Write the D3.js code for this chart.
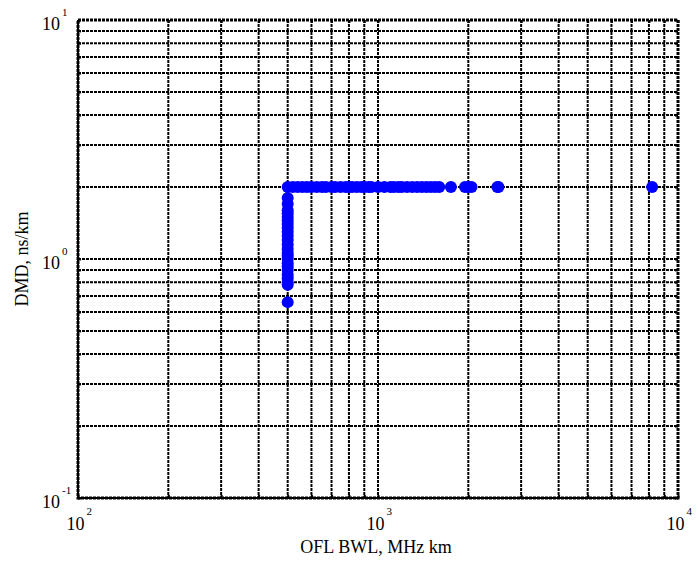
<!DOCTYPE html>
<html>
<head>
<meta charset="utf-8">
<script src="https://cdn.jsdelivr.net/npm/d3@7"></script>
<style>
  body { margin: 0; background: #fff; }
  text { font-family: "Liberation Serif", "Times New Roman", serif; fill: #000; }
</style>
</head>
<body>
<div id="chart"></div>
<script>
// measured values: OFL bandwidth (MHz km) vs DMD (ns/km)
var bwl = [500, 500, 500, 500, 500, 500, 500, 500, 500, 500, 500, 500, 500,
  500, 500, 500, 500, 500, 500, 500, 500, 500, 500, 500, 500,
  520, 540, 560, 580, 600, 625, 650, 670, 700, 720, 750, 780, 800, 820, 850,
  880, 900, 930, 950, 1000, 1050, 1100, 1130, 1170, 1200, 1250, 1300, 1350,
  1400, 1450, 1500, 1550, 1600, 1750, 1950, 2000, 2050, 2500, 2520, 8200];
var dmd = [0.66, 0.78, 0.8, 0.83, 0.86, 0.9, 0.93, 0.96, 1.0, 1.03, 1.06, 1.1,
  1.15, 1.2, 1.25, 1.3, 1.35, 1.4, 1.45, 1.5, 1.55, 1.6, 1.7, 1.8, 2.0,
  2, 2, 2, 2, 2, 2, 2, 2, 2, 2, 2, 2, 2, 2, 2,
  2, 2, 2, 2, 2, 2, 2, 2, 2, 2, 2, 2, 2,
  2, 2, 2, 2, 2, 2, 2, 2, 2, 2, 2, 2];
var xDecades = [2, 3, 4];
var yDecades = [-1, 0, 1];
var xTitle = "OFL BWL, MHz km";
var yTitle = "DMD, ns/km";

var margin = {top: 20, right: 19, bottom: 63, left: 78},
    width = 697 - margin.left - margin.right,
    height = 561 - margin.top - margin.bottom;

var svg = d3.select("#chart")
  .append("svg")
    .attr("width", 697)
    .attr("height", 561)
  .append("g")
    .attr("transform", "translate(" + margin.left + "," + margin.top + ")");

var x = d3.scaleLog()
  .domain([Math.pow(10, xDecades[0]), Math.pow(10, xDecades[xDecades.length - 1])])
  .range([0, width]);
var y = d3.scaleLog()
  .domain([Math.pow(10, yDecades[0]), Math.pow(10, yDecades[yDecades.length - 1])])
  .range([height, 0]);

// grid at every 1..9 x 10^n
function logTicks(dec) {
  var t = [];
  for (var i = 0; i < dec.length - 1; i++) {
    for (var k = 1; k < 10; k++) t.push(k * Math.pow(10, dec[i]));
  }
  t.push(Math.pow(10, dec[dec.length - 1]));
  return t;
}
var xt = logTicks(xDecades), yt = logTicks(yDecades);

svg.append("g").selectAll("line")
  .data(xt)
  .join("line")
    .attr("x1", function(d) { return x(d); })
    .attr("x2", function(d) { return x(d); })
    .attr("y1", 0).attr("y2", height)
    .attr("stroke", "#000")
    .attr("stroke-width", 2)
    .attr("stroke-dasharray", "3,1");

svg.append("g").selectAll("line")
  .data(yt)
  .join("line")
    .attr("y1", function(d) { return y(d); })
    .attr("y2", function(d) { return y(d); })
    .attr("x1", 0).attr("x2", width)
    .attr("stroke", "#000")
    .attr("stroke-width", 2)
    .attr("stroke-dasharray", "3,1");

// small inward ticks on all sides
var tl = 3;
svg.append("g")
  .call(d3.axisBottom(x).tickValues(xt).tickSize(tl).tickFormat(""))
  .attr("transform", "translate(0," + (height - tl) + ")");
svg.append("g")
  .call(d3.axisTop(x).tickValues(xt).tickSize(tl).tickFormat(""))
  .attr("transform", "translate(0," + tl + ")");
svg.append("g")
  .call(d3.axisLeft(y).tickValues(yt).tickSize(tl).tickFormat(""))
  .attr("transform", "translate(" + tl + ",0)");
svg.append("g")
  .call(d3.axisRight(y).tickValues(yt).tickSize(tl).tickFormat(""))
  .attr("transform", "translate(" + (width - tl) + ",0)");
svg.selectAll(".domain").remove();
svg.selectAll(".tick line").attr("stroke", "#000").attr("stroke-width", 2);

// frame
svg.append("rect")
  .attr("x", 0).attr("y", 0)
  .attr("width", width).attr("height", height)
  .attr("fill", "none")
  .attr("stroke", "#000")
  .attr("stroke-width", 3)
  .attr("stroke-dasharray", "3,1");

// points
svg.append("g").selectAll("circle")
  .data(bwl)
  .join("circle")
    .attr("cx", function(d) { return x(d); })
    .attr("cy", function(d, i) { return y(dmd[i]); })
    .attr("r", 6)
    .attr("fill", "#0000ff");

// tick labels
xDecades.forEach(function(e) {
  var px = x(Math.pow(10, e));
  svg.append("text")
    .attr("x", px - 2.5).attr("y", height + 32)
    .attr("text-anchor", "middle")
    .style("font-size", "18px")
    .text("10");
  svg.append("text")
    .attr("x", px + 8.5).attr("y", height + 17)
    .style("font-size", "11px")
    .text(e);
});
yDecades.forEach(function(e) {
  var py = y(Math.pow(10, e));
  svg.append("text")
    .attr("x", -18).attr("y", py + 10)
    .attr("text-anchor", "end")
    .style("font-size", "18px")
    .text("10");
  svg.append("text")
    .attr("x", -16).attr("y", py - 4)
    .style("font-size", "11px")
    .text(e);
});

// axis titles
svg.append("text")
  .attr("x", width / 2 - 2).attr("y", height + 55)
  .attr("text-anchor", "middle")
  .style("font-size", "18px")
  .text(xTitle);
svg.append("text")
  .attr("transform", "translate(-50," + (height / 2) + ") rotate(-90)")
  .attr("text-anchor", "middle")
  .style("font-size", "18px")
  .text(yTitle);
</script>
</body>
</html>
